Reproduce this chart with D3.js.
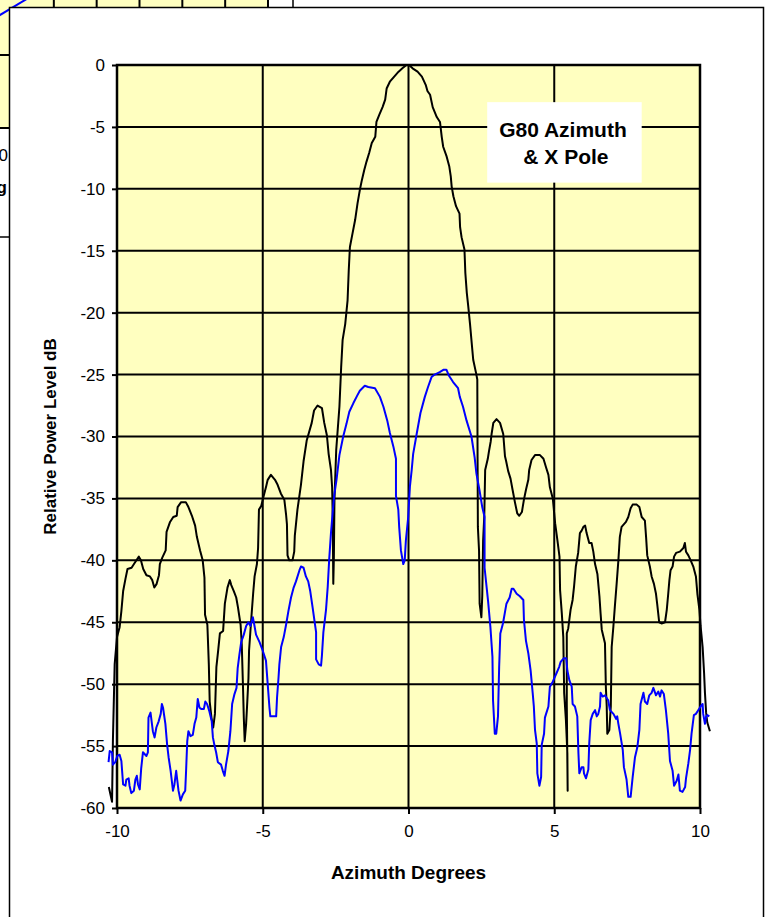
<!DOCTYPE html>
<html>
<head>
<meta charset="utf-8">
<script src="https://cdn.jsdelivr.net/npm/d3@7"></script>
<style>
  html, body { margin: 0; padding: 0; background: #fff; }
  svg { display: block; font-family: Arial, "Liberation Sans", sans-serif; }
</style>
</head>
<body>
<svg id="chart" width="769" height="917"></svg>
<script>
const width = 769, height = 917;

// axis ticks
const xTicks = [-10, -5, 0, 5, 10];
const yTicks = [0, -5, -10, -15, -20, -25, -30, -35, -40, -45, -50, -55, -60];

// co-polar azimuth cut [deg, dB] (black)
const azimuthCopol = [
  [-10.28,-58.3],[-10.17,-59.5],[-10.14,-54.5],[-10.08,-48.4],[-10.0,-46.2],[-9.91,-45.4],[-9.85,-44.1],[-9.79,-42.5],
  [-9.71,-41.5],[-9.64,-40.7],[-9.5,-40.6],[-9.39,-40.2],[-9.25,-39.7],[-9.18,-40.0],[-9.1,-40.7],[-8.99,-41.2],
  [-8.87,-41.3],[-8.79,-41.6],[-8.72,-42.2],[-8.64,-41.9],[-8.56,-41.2],[-8.53,-40.3],[-8.45,-39.8],[-8.33,-39.2],
  [-8.3,-37.7],[-8.18,-36.9],[-8.07,-36.5],[-7.95,-36.4],[-7.92,-35.7],[-7.8,-35.3],[-7.64,-35.3],[-7.55,-35.7],
  [-7.43,-36.4],[-7.32,-37.2],[-7.26,-38.1],[-7.15,-39.2],[-7.06,-40.0],[-7.0,-41.4],[-6.98,-44.4],[-6.9,-45.2],
  [-6.87,-47.1],[-6.85,-48.4],[-6.82,-51.4],[-6.76,-52.7],[-6.7,-53.5],[-6.64,-52.4],[-6.59,-48.6],[-6.53,-47.3],
  [-6.47,-45.9],[-6.36,-45.7],[-6.3,-43.5],[-6.21,-42.2],[-6.13,-41.6],[-6.08,-42.0],[-5.99,-42.5],[-5.91,-43.0],
  [-5.85,-43.8],[-5.76,-45.2],[-5.72,-46.8],[-5.68,-50.0],[-5.65,-52.7],[-5.62,-54.6],[-5.57,-53.2],[-5.53,-51.4],
  [-5.49,-49.5],[-5.47,-47.3],[-5.39,-44.6],[-5.33,-42.7],[-5.28,-41.3],[-5.2,-40.3],[-5.16,-39.0],[-5.13,-35.9],
  [-5.05,-35.6],[-4.99,-35.0],[-4.88,-34.0],[-4.83,-33.5],[-4.72,-33.1],[-4.58,-33.5],[-4.49,-33.9],[-4.38,-34.6],
  [-4.26,-35.1],[-4.2,-36.3],[-4.17,-37.1],[-4.15,-39.6],[-4.09,-40.0],[-3.98,-40.0],[-3.92,-39.3],[-3.9,-38.0],
  [-3.81,-35.9],[-3.69,-33.9],[-3.6,-32.0],[-3.49,-30.3],[-3.32,-28.9],[-3.24,-27.9],[-3.12,-27.5],[-2.97,-27.7],
  [-2.89,-28.9],[-2.8,-29.9],[-2.74,-31.4],[-2.66,-32.7],[-2.62,-34.1],[-2.6,-36.5],[-2.58,-41.9],[-2.56,-39.7],
  [-2.54,-35.1],[-2.48,-31.1],[-2.37,-27.6],[-2.31,-24.4],[-2.26,-22.2],[-2.17,-20.9],[-2.09,-19.0],[-2.05,-16.6],
  [-2.01,-14.7],[-1.92,-13.6],[-1.83,-12.5],[-1.75,-11.2],[-1.67,-10.1],[-1.6,-9.3],[-1.52,-8.5],[-1.44,-7.8],
  [-1.35,-7.1],[-1.26,-6.3],[-1.14,-5.8],[-1.1,-4.6],[-1.0,-4.0],[-0.89,-3.4],[-0.8,-2.8],[-0.75,-1.9],
  [-0.64,-1.35],[-0.49,-0.94],[-0.34,-0.54],[-0.21,-0.27],[-0.07,0],[0.02,0],[0.14,-0.27],[0.31,-0.54],
  [0.46,-0.94],[0.59,-1.6],[0.65,-2.1],[0.74,-2.4],[0.83,-3.4],[0.97,-4.2],[1.08,-4.6],[1.14,-5.8],
  [1.19,-6.6],[1.31,-7.4],[1.4,-8.2],[1.45,-9.0],[1.48,-9.8],[1.54,-10.6],[1.63,-11.4],[1.75,-12.0],
  [1.77,-13.1],[1.82,-13.9],[1.92,-14.9],[1.95,-16.8],[2.0,-18.4],[2.05,-19.5],[2.11,-20.9],[2.17,-22.5],
  [2.22,-23.8],[2.32,-24.9],[2.36,-25.4],[2.37,-31.9],[2.38,-37.3],[2.42,-39.2],[2.44,-43.5],[2.5,-44.6],
  [2.53,-42.9],[2.56,-38.4],[2.6,-36.4],[2.63,-32.7],[2.72,-31.8],[2.76,-31.2],[2.82,-30.4],[2.85,-29.8],
  [2.91,-28.9],[3.02,-28.6],[3.14,-28.9],[3.25,-29.8],[3.31,-31.6],[3.35,-32.0],[3.42,-32.8],[3.5,-33.4],
  [3.57,-34.3],[3.65,-35.3],[3.73,-36.2],[3.8,-36.4],[3.89,-36.1],[3.96,-35.1],[4.03,-34.3],[4.11,-33.5],
  [4.14,-32.7],[4.22,-31.9],[4.34,-31.5],[4.51,-31.5],[4.63,-31.8],[4.72,-32.5],[4.8,-33.1],[4.85,-34.1],
  [4.95,-35.0],[5.03,-37.0],[5.11,-38.4],[5.18,-39.7],[5.2,-42.4],[5.26,-44.3],[5.31,-46.2],[5.34,-50.7],
  [5.4,-52.9],[5.45,-55.6],[5.46,-58.6],[5.43,-51.6],[5.43,-45.9],[5.48,-45.5],[5.56,-44.0],[5.63,-43.2],
  [5.68,-42.1],[5.74,-40.5],[5.82,-39.4],[5.88,-37.8],[5.94,-37.6],[6.0,-37.3],[6.06,-37.2],[6.11,-37.8],
  [6.2,-38.6],[6.28,-38.6],[6.34,-39.3],[6.4,-40.3],[6.48,-41.1],[6.55,-42.9],[6.59,-44.3],[6.63,-45.6],
  [6.74,-46.7],[6.77,-50.2],[6.8,-51.8],[6.82,-54.0],[6.89,-53.7],[6.94,-51.8],[6.97,-47.0],[7.03,-45.3],
  [7.08,-43.7],[7.14,-41.9],[7.2,-40.0],[7.25,-38.1],[7.31,-37.3],[7.46,-36.9],[7.54,-36.5],[7.62,-35.8],
  [7.69,-35.5],[7.83,-35.5],[7.92,-35.7],[8.0,-36.5],[8.11,-36.8],[8.15,-38.1],[8.19,-39.6],[8.28,-40.5],
  [8.34,-41.3],[8.42,-41.9],[8.49,-42.7],[8.53,-43.5],[8.6,-45.0],[8.68,-45.1],[8.8,-45.0],[8.86,-44.0],
  [8.91,-42.7],[8.95,-41.6],[8.99,-40.8],[9.06,-40.5],[9.11,-39.7],[9.18,-39.4],[9.31,-39.3],[9.43,-39.0],
  [9.48,-38.6],[9.52,-39.3],[9.6,-39.6],[9.68,-40.0],[9.77,-40.5],[9.86,-41.3],[9.91,-42.7],[9.98,-44.0],
  [10.02,-45.3],[10.09,-47.0],[10.14,-49.1],[10.17,-50.7],[10.21,-52.3],[10.25,-53.1],[10.34,-53.8]
];

// cross-polar azimuth cut [deg, dB] (blue)
const azimuthXpol = [
  [-10.29,-56.3],[-10.25,-55.4],[-10.17,-55.5],[-10.14,-56.5],[-10.06,-56.3],[-9.99,-55.8],[-9.91,-55.7],[-9.85,-56.2],
  [-9.79,-58.1],[-9.71,-58.2],[-9.68,-57.7],[-9.6,-57.6],[-9.57,-58.2],[-9.51,-58.8],[-9.42,-58.6],[-9.37,-57.7],
  [-9.32,-57.4],[-9.28,-58.1],[-9.22,-58.5],[-9.17,-56.8],[-9.11,-55.5],[-8.99,-55.8],[-8.94,-55.5],[-8.92,-52.7],
  [-8.85,-52.3],[-8.77,-53.8],[-8.71,-54.3],[-8.65,-53.5],[-8.57,-53.0],[-8.5,-52.4],[-8.46,-51.6],[-8.42,-51.9],
  [-8.39,-52.4],[-8.34,-53.2],[-8.28,-54.9],[-8.23,-55.9],[-8.16,-57.0],[-8.08,-58.6],[-8.03,-58.1],[-7.97,-57.0],
  [-7.93,-57.8],[-7.89,-58.6],[-7.82,-59.4],[-7.74,-58.9],[-7.66,-58.6],[-7.63,-57.0],[-7.59,-54.6],[-7.55,-53.8],
  [-7.48,-54.2],[-7.4,-54.1],[-7.34,-53.2],[-7.28,-52.7],[-7.23,-51.2],[-7.17,-51.9],[-7.11,-52.0],[-7.02,-52.0],
  [-6.97,-51.4],[-6.91,-51.6],[-6.83,-52.2],[-6.75,-53.0],[-6.71,-54.3],[-6.66,-54.9],[-6.6,-55.5],[-6.54,-56.3],
  [-6.43,-56.5],[-6.37,-57.0],[-6.31,-57.4],[-6.26,-56.5],[-6.18,-55.4],[-6.11,-53.8],[-6.05,-51.6],[-5.97,-50.8],
  [-5.9,-50.3],[-5.86,-48.7],[-5.8,-47.6],[-5.74,-46.6],[-5.65,-46.0],[-5.57,-45.3],[-5.49,-45.0],[-5.42,-45.3],
  [-5.34,-44.6],[-5.29,-45.2],[-5.23,-46.0],[-5.11,-46.6],[-5.0,-47.3],[-4.89,-48.1],[-4.83,-50.0],[-4.77,-51.9],
  [-4.74,-52.6],[-4.54,-52.6],[-4.51,-51.1],[-4.46,-49.5],[-4.43,-48.4],[-4.37,-47.0],[-4.28,-46.2],[-4.2,-45.2],
  [-4.12,-44.1],[-4.03,-43.0],[-3.94,-42.2],[-3.86,-41.7],[-3.74,-40.8],[-3.69,-40.5],[-3.6,-40.6],[-3.52,-41.3],
  [-3.44,-41.7],[-3.37,-42.5],[-3.29,-43.8],[-3.23,-44.8],[-3.17,-45.8],[-3.17,-48.0],[-3.08,-48.4],[-3.0,-48.5],
  [-2.97,-47.7],[-2.92,-45.8],[-2.83,-44.0],[-2.77,-42.1],[-2.72,-39.9],[-2.66,-37.8],[-2.6,-36.1],[-2.55,-34.8],
  [-2.47,-33.5],[-2.37,-31.5],[-2.24,-30.0],[-2.13,-29.0],[-2.03,-28.0],[-1.89,-27.3],[-1.76,-26.7],[-1.67,-26.3],
  [-1.5,-25.9],[-1.38,-26.0],[-1.15,-26.1],[-0.98,-26.8],[-0.86,-27.6],[-0.73,-28.7],[-0.64,-29.7],[-0.52,-30.8],
  [-0.43,-31.8],[-0.43,-34.8],[-0.35,-35.9],[-0.32,-37.3],[-0.26,-39.2],[-0.18,-40.3],[-0.13,-40.0],[-0.09,-38.4],
  [-0.01,-36.5],[0.05,-34.0],[0.11,-32.7],[0.16,-31.4],[0.28,-29.8],[0.41,-28.1],[0.56,-26.8],[0.67,-26.0],
  [0.79,-25.2],[0.9,-25.0],[1.07,-24.8],[1.21,-24.6],[1.3,-24.6],[1.39,-25.1],[1.53,-25.6],[1.7,-26.1],
  [1.76,-26.8],[1.87,-27.6],[1.99,-28.7],[2.16,-30.0],[2.27,-31.7],[2.33,-33.0],[2.44,-34.4],[2.53,-35.7],
  [2.61,-36.5],[2.61,-40.6],[2.73,-43.3],[2.81,-45.4],[2.88,-47.8],[2.9,-51.3],[2.96,-54.0],[3.01,-54.0],
  [3.07,-52.6],[3.11,-48.6],[3.15,-45.9],[3.24,-45.1],[3.3,-44.3],[3.36,-43.5],[3.47,-43.0],[3.54,-42.3],
  [3.6,-42.3],[3.71,-42.7],[3.82,-42.9],[3.94,-43.2],[3.96,-44.8],[4.03,-46.5],[4.11,-47.5],[4.19,-48.9],
  [4.26,-50.7],[4.3,-51.8],[4.34,-53.7],[4.4,-54.8],[4.42,-57.2],[4.49,-58.2],[4.55,-57.5],[4.57,-54.9],
  [4.65,-54.0],[4.68,-52.7],[4.72,-52.4],[4.8,-51.8],[4.85,-50.2],[4.95,-49.8],[5.08,-49.1],[5.17,-48.6],
  [5.22,-48.2],[5.33,-47.9],[5.41,-47.9],[5.45,-48.9],[5.52,-49.7],[5.6,-50.2],[5.63,-51.6],[5.71,-51.8],
  [5.79,-52.6],[5.83,-55.6],[5.86,-57.2],[5.94,-56.7],[6.0,-56.7],[6.02,-57.2],[6.09,-57.6],[6.17,-56.9],
  [6.2,-54.8],[6.25,-52.9],[6.32,-52.4],[6.4,-52.1],[6.46,-52.6],[6.51,-52.4],[6.57,-51.8],[6.59,-50.7],
  [6.66,-51.0],[6.74,-50.9],[6.85,-51.3],[6.91,-52.1],[7.03,-52.4],[7.12,-52.8],[7.16,-52.6],[7.2,-53.2],
  [7.26,-54.0],[7.35,-55.3],[7.39,-56.7],[7.48,-57.7],[7.54,-59.1],[7.62,-59.1],[7.69,-57.5],[7.77,-55.9],
  [7.85,-55.1],[7.92,-53.7],[7.96,-51.6],[8.06,-50.7],[8.11,-51.4],[8.19,-51.6],[8.26,-50.9],[8.34,-50.7],
  [8.4,-50.3],[8.49,-50.9],[8.57,-50.6],[8.63,-51.0],[8.68,-50.5],[8.76,-50.8],[8.83,-52.1],[8.91,-54.0],
  [8.97,-56.2],[9.06,-57.0],[9.11,-58.2],[9.2,-57.8],[9.26,-57.3],[9.31,-58.6],[9.4,-58.7],[9.49,-58.3],
  [9.52,-57.6],[9.6,-56.4],[9.66,-55.3],[9.71,-54.0],[9.79,-52.5],[9.86,-52.4],[9.94,-52.1],[10.02,-51.8],
  [10.09,-51.6],[10.11,-52.4],[10.17,-53.2],[10.21,-52.6],[10.25,-52.5],[10.32,-52.6]
];

const titleLines = ["G80 Azimuth", " & X Pole"];

const svg = d3.select("#chart");
const plotFill = "#FFFFC0";

// ---- piece of the chart lying underneath (top-left corner) ----
const bgX = d3.scaleLinear().domain([0, 6]).range([11, 268]);
const bgY = d3.scaleLinear().domain([0, 1]).range([128, 55]);
const bg = svg.append("g");
bg.append("rect").attr("x", -5).attr("y", -20).attr("width", bgX(6) + 5).attr("height", bgY(0) + 20)
  .attr("fill", plotFill);
bg.selectAll(".bgv").data(d3.range(1, 7)).enter().append("line")
  .attr("x1", d => bgX(d)).attr("x2", d => bgX(d)).attr("y1", -5).attr("y2", bgY(0))
  .attr("stroke", "#000").attr("stroke-width", 2);
bg.selectAll(".bgh").data([0, 1]).enter().append("line")
  .attr("x1", -5).attr("x2", bgX(6)).attr("y1", d => bgY(d)).attr("y2", d => bgY(d))
  .attr("stroke", "#000").attr("stroke-width", 2);
bg.append("line").attr("x1", -10).attr("y1", 21).attr("x2", 35).attr("y2", -6)
  .attr("stroke", "#0000FF").attr("stroke-width", 2);
bg.append("line").attr("x1", 293).attr("x2", 293).attr("y1", -5).attr("y2", 20)
  .attr("stroke", "#000").attr("stroke-width", 1.5);
bg.append("line").attr("x1", -5).attr("x2", 20).attr("y1", 237).attr("y2", 237)
  .attr("stroke", "#000").attr("stroke-width", 1.5);
bg.append("text").attr("x", 8).attr("y", 161).attr("text-anchor", "end")
  .attr("font-size", 17).text("10");
bg.append("text").attr("x", 7).attr("y", 193).attr("text-anchor", "end")
  .attr("font-size", 17).attr("font-weight", "bold").text("Elevation Deg");

// ---- main chart frame ----
svg.append("rect").attr("x", 9.5).attr("y", 7.5).attr("width", 754).attr("height", 940)
  .attr("fill", "#fff").attr("stroke", "#000").attr("stroke-width", 1.5);

const x = d3.scaleLinear().domain([-10, 10]).range([117, 700]);
const y = d3.scaleLinear().domain([-60, 0]).range([808, 65]);

svg.append("rect")
  .attr("x", x(-10)).attr("y", y(0))
  .attr("width", x(10) - x(-10)).attr("height", y(-60) - y(0))
  .attr("fill", plotFill);

// gridlines
svg.append("g").selectAll("line").data(yTicks).enter().append("line")
  .attr("x1", x(-10)).attr("x2", x(10)).attr("y1", d => y(d)).attr("y2", d => y(d))
  .attr("stroke", "#000").attr("stroke-width", 2);
svg.append("g").selectAll("line").data(xTicks).enter().append("line")
  .attr("y1", y(0)).attr("y2", y(-60)).attr("x1", d => x(d)).attr("x2", d => x(d))
  .attr("stroke", "#000").attr("stroke-width", 2);

svg.append("rect")
  .attr("x", x(-10)).attr("y", y(0))
  .attr("width", x(10) - x(-10)).attr("height", y(-60) - y(0))
  .attr("fill", "none").attr("stroke", "#000").attr("stroke-width", 2.5);

// annotation box
const box = svg.append("g");
box.append("rect")
  .attr("x", x(2.7)).attr("y", y(-3.0))
  .attr("width", x(8.0) - x(2.7)).attr("height", y(-9.5) - y(-3.0))
  .attr("fill", "#fff");
box.selectAll("text").data(titleLines).enter().append("text")
  .attr("x", x(5.3)).attr("y", (d, i) => y(-5.8 - i * 2.2))
  .attr("text-anchor", "middle").attr("font-size", 21).attr("font-weight", "bold")
  .style("white-space", "pre")
  .text(d => d);

// axes
const yAxis = svg.append("g").attr("transform", `translate(${x(-10)},0)`)
  .call(d3.axisLeft(y).tickValues(yTicks).tickSize(5).tickPadding(7).tickFormat(d3.format("d")));
const xAxis = svg.append("g").attr("transform", `translate(0,${y(-60)})`)
  .call(d3.axisBottom(x).tickValues(xTicks).tickSize(6).tickPadding(11).tickFormat(d3.format("d")));
[yAxis, xAxis].forEach(a => {
  a.select(".domain").remove();
  a.selectAll(".tick line").attr("stroke", "#000").attr("stroke-width", 2);
  a.selectAll(".tick text").attr("font-size", 17).attr("fill", "#000")
    .attr("font-family", "Arial, 'Liberation Sans', sans-serif")
    .text(d => String(d));
});

// series
const line = d3.line().x(d => x(d[0])).y(d => y(d[1]));
svg.append("path").datum(azimuthCopol).attr("d", line)
  .attr("fill", "none").attr("stroke", "#000").attr("stroke-width", 2).attr("stroke-linejoin", "round");
svg.append("path").datum(azimuthXpol).attr("d", line)
  .attr("fill", "none").attr("stroke", "#0000FF").attr("stroke-width", 2).attr("stroke-linejoin", "round");

// axis titles
svg.append("text")
  .attr("x", (x(-10) + x(10)) / 2).attr("y", 879)
  .attr("text-anchor", "middle").attr("font-size", 19).attr("font-weight", "bold")
  .text("Azimuth Degrees");
svg.append("text")
  .attr("transform", `translate(56,${(y(0) + y(-60)) / 2}) rotate(-90)`)
  .attr("text-anchor", "middle").attr("font-size", 17).attr("font-weight", "bold")
  .text("Relative Power Level dB");
</script>
</body>
</html>
